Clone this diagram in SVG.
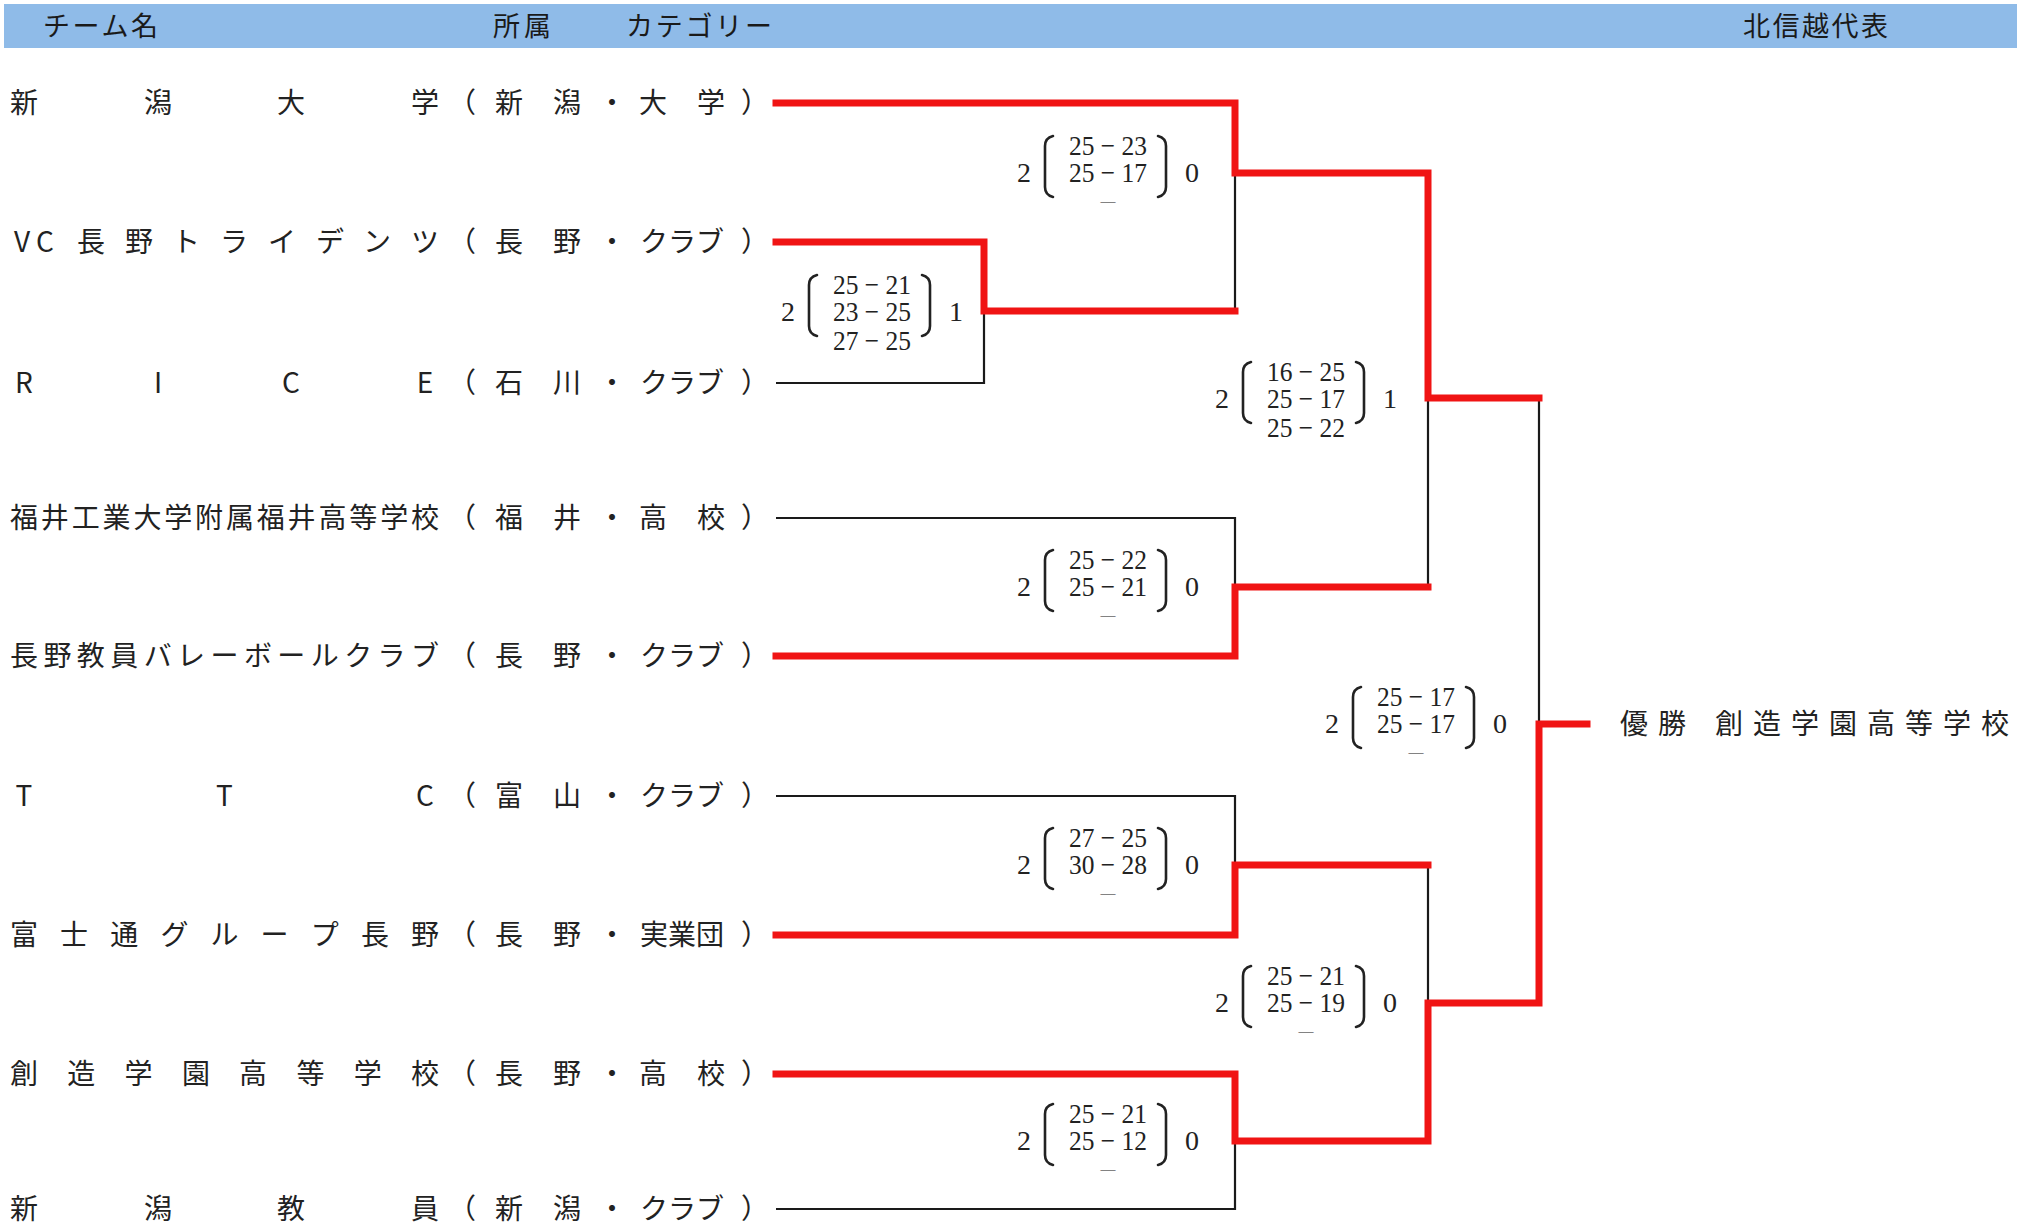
<svg xmlns="http://www.w3.org/2000/svg" width="2017" height="1224" viewBox="0 0 2017 1224">
<style>
.hdr{font-family:"Noto Sans CJK JP","Noto Sans",sans-serif;font-size:27px;fill:#1a1a1a}
.tm{font-family:"Noto Sans CJK JP","Noto Sans",sans-serif;font-size:28px;fill:#222;text-anchor:middle}
.sc{font-family:"Liberation Serif","DejaVu Serif",serif;font-size:28px;fill:#222;text-anchor:middle}
.nd{font-family:"Liberation Serif","DejaVu Serif",serif;font-size:15px;fill:#222;text-anchor:middle}
.par{fill:none;stroke:#222;stroke-width:2.6;stroke-linecap:round}
.win{fill:none;stroke:#f01414;stroke-width:7;stroke-linejoin:miter;stroke-linecap:square}
.lose{fill:none;stroke:#1a1a1a;stroke-width:2.2}
.champ{font-family:"Noto Sans CJK JP","Noto Sans",sans-serif;font-size:28px;fill:#222}
</style>
<defs>
<path id="lp" class="par" d="M29,-37 Q21,-35 21,-27 L21,14 Q21,22 29,24"/>
<path id="rp" class="par" d="M134,-37 Q142,-35 142,-27 L142,14 Q142,22 134,24"/>
</defs>
<rect width="2017" height="1224" fill="#ffffff"/>
<g id="header">
<rect x="4" y="4" width="2013" height="44" fill="#8fbbe8"/>
<text class="hdr" x="43" y="36" textLength="115">チーム名</text>
<text class="hdr" x="493" y="36" textLength="58">所属</text>
<text class="hdr" x="626" y="36" textLength="146">カテゴリー</text>
<text class="hdr" x="1743" y="36" textLength="145">北信越代表</text>
</g>
<g id="connectors">
<path class="lose" d="M776,383 H984 V311"/>
<path class="lose" d="M1235,173 V311"/>
<path class="lose" d="M776,518 H1235 V587"/>
<path class="lose" d="M1428,398 V587"/>
<path class="lose" d="M776,796 H1235 V865"/>
<path class="lose" d="M776,1209 H1235 V1141"/>
<path class="lose" d="M1428,865 V1003"/>
<path class="lose" d="M1539,398 V724"/>
<path class="win" d="M776,103 H1235 V173 H1428 V398 H1539"/>
<path class="win" d="M776,242 H984 V311 H1235"/>
<path class="win" d="M776,656 H1235 V587 H1428"/>
<path class="win" d="M776,935 H1235 V865 H1428"/>
<path class="win" d="M776,1074 H1235 V1141 H1428 V1003 H1539 V724 H1587"/>
</g>
<g id="team-niigata-univ">
<text class="tm" x="24 158 291 425" y="113">新潟大学</text>
<text class="tm" x="462 509 567 612 653 711 755" y="113">（新潟・大学）</text>
</g>
<g id="team-vc-nagano">
<text class="tm" x="22 45 91 139 186 234 282 330 377 425" y="252">VC長野トライデンツ</text>
<text class="tm" x="462 509 567 612 654 682 710 755" y="252">（長野・クラブ）</text>
</g>
<g id="team-rice">
<text class="tm" x="24 158 291 425" y="393">RICE</text>
<text class="tm" x="462 509 567 612 654 682 710 755" y="393">（石川・クラブ）</text>
</g>
<g id="team-fukui">
<text class="tm" x="24 54.8 85.7 116.5 147.4 178.2 209.1 239.9 270.8 301.6 332.5 363.3 394.2 425" y="528">福井工業大学附属福井高等学校</text>
<text class="tm" x="462 509 567 612 653 711 755" y="528">（福井・高校）</text>
</g>
<g id="team-nagano-kyoin">
<text class="tm" x="24 57.4 90.8 124.3 157.7 191.1 224.5 257.9 291.3 324.8 358.2 391.6 425" y="666">長野教員バレーボールクラブ</text>
<text class="tm" x="462 509 567 612 654 682 710 755" y="666">（長野・クラブ）</text>
</g>
<g id="team-ttc">
<text class="tm" x="24 224.5 425" y="806">TTC</text>
<text class="tm" x="462 509 567 612 654 682 710 755" y="806">（富山・クラブ）</text>
</g>
<g id="team-fujitsu">
<text class="tm" x="24 74.1 124.3 174.4 224.5 274.6 324.8 374.9 425" y="945">富士通グループ長野</text>
<text class="tm" x="462 509 567 612 654 682 710 755" y="945">（長野・実業団）</text>
</g>
<g id="team-sozo">
<text class="tm" x="24 81.3 138.6 195.9 253.1 310.4 367.7 425" y="1084">創造学園高等学校</text>
<text class="tm" x="462 509 567 612 653 711 755" y="1084">（長野・高校）</text>
</g>
<g id="team-niigata-kyoin">
<text class="tm" x="24 158 291 425" y="1219">新潟教員</text>
<text class="tm" x="462 509 567 612 654 682 710 755" y="1219">（新潟・クラブ）</text>
</g>
<g id="score-a" transform="translate(788,312)">
<text class="sc" x="0" y="9">2</text>
<use href="#lp"/>
<text class="sc" x="84" y="-18" textLength="78" lengthAdjust="spacingAndGlyphs">25 − 21</text>
<text class="sc" x="84" y="9" textLength="78" lengthAdjust="spacingAndGlyphs">23 − 25</text>
<text class="sc" x="84" y="38" textLength="78" lengthAdjust="spacingAndGlyphs">27 − 25</text>
<use href="#rp"/>
<text class="sc" x="168" y="9">1</text>
</g>
<g id="score-b" transform="translate(1024,173)">
<text class="sc" x="0" y="9">2</text>
<use href="#lp"/>
<text class="sc" x="84" y="-18" textLength="78" lengthAdjust="spacingAndGlyphs">25 − 23</text>
<text class="sc" x="84" y="9" textLength="78" lengthAdjust="spacingAndGlyphs">25 − 17</text>
<text class="nd" x="84" y="33">—</text>
<use href="#rp"/>
<text class="sc" x="168" y="9">0</text>
</g>
<g id="score-c" transform="translate(1024,587)">
<text class="sc" x="0" y="9">2</text>
<use href="#lp"/>
<text class="sc" x="84" y="-18" textLength="78" lengthAdjust="spacingAndGlyphs">25 − 22</text>
<text class="sc" x="84" y="9" textLength="78" lengthAdjust="spacingAndGlyphs">25 − 21</text>
<text class="nd" x="84" y="33">—</text>
<use href="#rp"/>
<text class="sc" x="168" y="9">0</text>
</g>
<g id="score-d" transform="translate(1222,399)">
<text class="sc" x="0" y="9">2</text>
<use href="#lp"/>
<text class="sc" x="84" y="-18" textLength="78" lengthAdjust="spacingAndGlyphs">16 − 25</text>
<text class="sc" x="84" y="9" textLength="78" lengthAdjust="spacingAndGlyphs">25 − 17</text>
<text class="sc" x="84" y="38" textLength="78" lengthAdjust="spacingAndGlyphs">25 − 22</text>
<use href="#rp"/>
<text class="sc" x="168" y="9">1</text>
</g>
<g id="score-e" transform="translate(1024,865)">
<text class="sc" x="0" y="9">2</text>
<use href="#lp"/>
<text class="sc" x="84" y="-18" textLength="78" lengthAdjust="spacingAndGlyphs">27 − 25</text>
<text class="sc" x="84" y="9" textLength="78" lengthAdjust="spacingAndGlyphs">30 − 28</text>
<text class="nd" x="84" y="33">—</text>
<use href="#rp"/>
<text class="sc" x="168" y="9">0</text>
</g>
<g id="score-f" transform="translate(1024,1141)">
<text class="sc" x="0" y="9">2</text>
<use href="#lp"/>
<text class="sc" x="84" y="-18" textLength="78" lengthAdjust="spacingAndGlyphs">25 − 21</text>
<text class="sc" x="84" y="9" textLength="78" lengthAdjust="spacingAndGlyphs">25 − 12</text>
<text class="nd" x="84" y="33">—</text>
<use href="#rp"/>
<text class="sc" x="168" y="9">0</text>
</g>
<g id="score-g" transform="translate(1222,1003)">
<text class="sc" x="0" y="9">2</text>
<use href="#lp"/>
<text class="sc" x="84" y="-18" textLength="78" lengthAdjust="spacingAndGlyphs">25 − 21</text>
<text class="sc" x="84" y="9" textLength="78" lengthAdjust="spacingAndGlyphs">25 − 19</text>
<text class="nd" x="84" y="33">—</text>
<use href="#rp"/>
<text class="sc" x="168" y="9">0</text>
</g>
<g id="score-final" transform="translate(1332,724)">
<text class="sc" x="0" y="9">2</text>
<use href="#lp"/>
<text class="sc" x="84" y="-18" textLength="78" lengthAdjust="spacingAndGlyphs">25 − 17</text>
<text class="sc" x="84" y="9" textLength="78" lengthAdjust="spacingAndGlyphs">25 − 17</text>
<text class="nd" x="84" y="33">—</text>
<use href="#rp"/>
<text class="sc" x="168" y="9">0</text>
</g>
<g id="champion">
<text class="champ" x="1620" y="734" letter-spacing="10">優勝</text>
<text class="champ" x="1715" y="734" letter-spacing="10">創造学園高等学校</text>
</g>
</svg>
